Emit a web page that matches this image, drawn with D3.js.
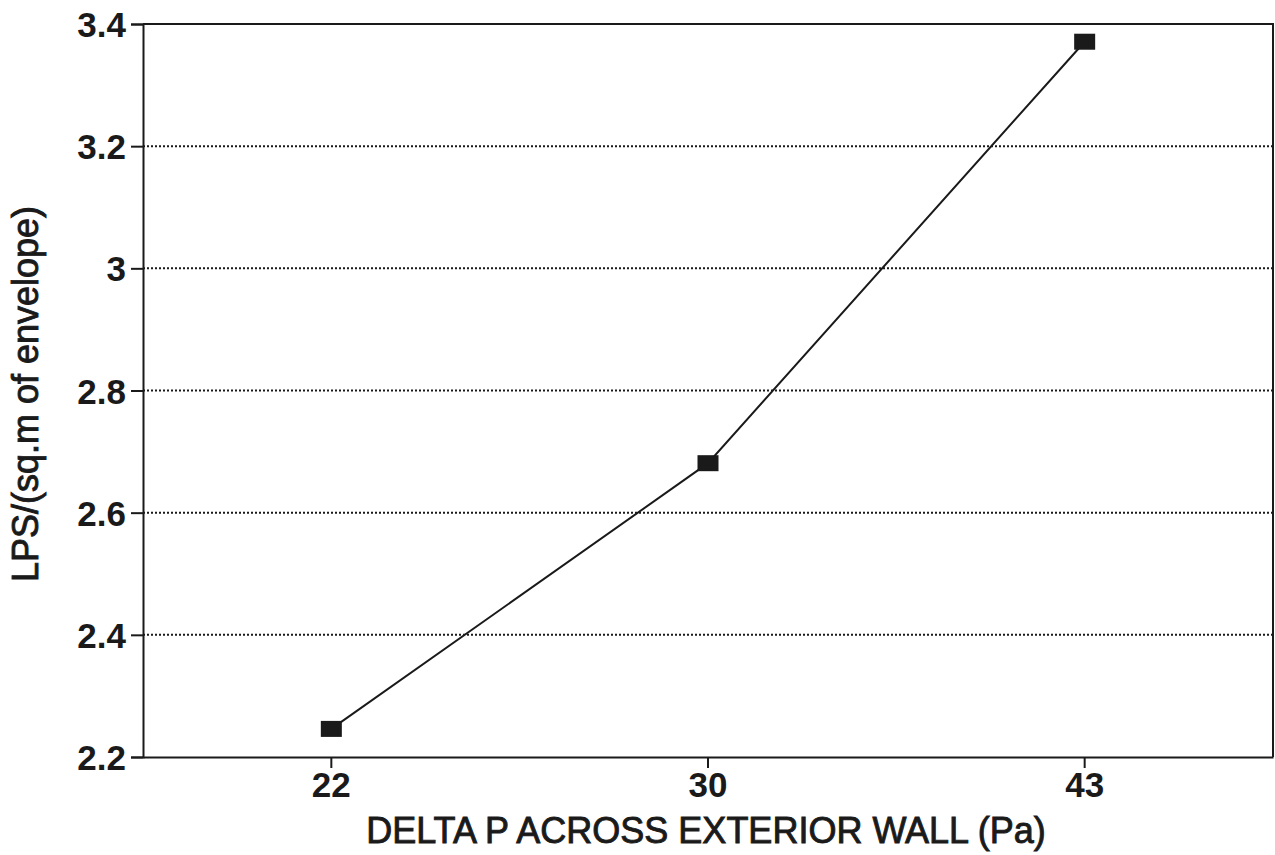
<!DOCTYPE html>
<html><head><meta charset="utf-8">
<script src="https://cdn.jsdelivr.net/npm/d3@7"></script>
<style>body{margin:0;background:#fff}svg{display:block}</style>
</head><body>
<svg id="c" width="1275" height="855"></svg>
<script>
const categories = ["22", "30", "43"];
const values = [2.246, 2.681, 3.371];
const yTicks = [2.2, 2.4, 2.6, 2.8, 3.0, 3.2, 3.4];
const yTickLabels = ["2.2", "2.4", "2.6", "2.8", "3", "3.2", "3.4"];
const xTitle = "DELTA P ACROSS EXTERIOR WALL (Pa)";
const yTitle = "LPS/(sq.m of envelope)";

const svg = d3.select("#c");
const m = {l:143, r:1273, t:24, b:757};
const x = d3.scaleBand().domain(categories).range([m.l, m.r]);
const y = d3.scaleLinear().domain([2.2, 3.4]).range([m.b, m.t]);
const font = "'Liberation Sans', Arial, Helvetica, sans-serif";
const ink = "#1a1a1a";

// grid lines
svg.append("g").selectAll("line").data(yTicks.slice(1, -1)).join("line")
  .attr("x1", m.l).attr("x2", m.r).attr("y1", d => y(d)).attr("y2", d => y(d))
  .attr("stroke", ink).attr("stroke-width", 2).attr("stroke-dasharray", "2,2");

// frame top/right
svg.append("path").attr("d", `M${m.l},${m.t}H${m.r}V${m.b}`)
  .attr("fill", "none").attr("stroke", ink).attr("stroke-width", 2);

// y axis
const ya = svg.append("g").attr("transform", `translate(${m.l},0)`)
  .call(d3.axisLeft(y).tickValues(yTicks).tickSize(12).tickPadding(5)
    .tickFormat((d, i) => yTickLabels[i]));
ya.select(".domain").attr("stroke", ink).attr("stroke-width", 2);
ya.selectAll(".tick line").attr("stroke", ink).attr("stroke-width", 2);
ya.selectAll("text").attr("font-family", font).attr("font-weight", "bold")
  .attr("font-size", 35).attr("fill", ink).attr("dy", "0.36em");

// x axis
const xa = svg.append("g").attr("transform", `translate(0,${m.b})`)
  .call(d3.axisBottom(x).tickSize(11).tickSizeOuter(0).tickPadding(4));
xa.select(".domain").attr("stroke", ink).attr("stroke-width", 2);
xa.selectAll(".tick line").attr("stroke", ink).attr("stroke-width", 2);
xa.selectAll("text").attr("font-family", font).attr("font-weight", "bold")
  .attr("font-size", 35).attr("fill", ink);

// line
const cx = d => x(d) + x.bandwidth() / 2;
svg.append("path").datum(categories)
  .attr("d", d3.line().x(d => cx(d)).y((d, i) => y(values[i])))
  .attr("fill", "none").attr("stroke", ink).attr("stroke-width", 2);

// markers
svg.append("g").selectAll("rect").data(categories).join("rect")
  .attr("x", d => cx(d) - 10.5).attr("y", (d, i) => y(values[i]) - 8)
  .attr("width", 21).attr("height", 16).attr("fill", ink);

// titles
svg.append("text").attr("x", 706).attr("y", 843).attr("text-anchor", "middle")
  .attr("font-family", font).attr("font-size", 36).attr("fill", ink)
  .attr("stroke", ink).attr("stroke-width", 0.9).text(xTitle);
svg.append("text").attr("transform", "translate(38,394) rotate(-90)")
  .attr("text-anchor", "middle").attr("font-family", font).attr("font-size", 36)
  .attr("fill", ink).attr("stroke", ink).attr("stroke-width", 0.9).text(yTitle);
</script>
</body></html>
